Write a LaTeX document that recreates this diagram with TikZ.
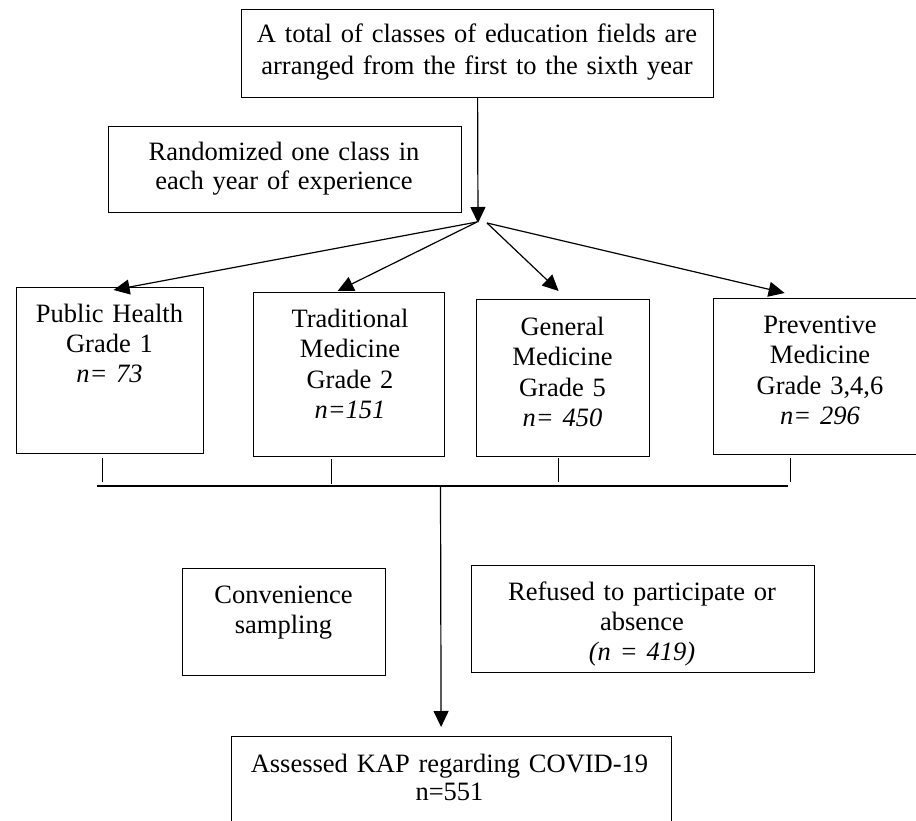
\documentclass[tikz,border=0pt]{standalone}
\usepackage{fontspec}
\setmainfont{Liberation Serif}
\usetikzlibrary{arrows.meta,calc}
\begin{document}
\begin{tikzpicture}[x=1pt,y=1pt,
  box/.style={draw=black,line width=1.2pt,rectangle,inner sep=0pt,anchor=north west},
  txt/.style={align=center,anchor=base,inner sep=0pt,font=\fontsize{26.5}{30.5}\selectfont},
  conn/.style={line width=1.2pt},
  arr/.style={conn,-{Triangle[length=16pt,width=15pt]}}]
\useasboundingbox (0,0) rectangle (916,-821);
% boxes
\node[box,minimum width=472pt,minimum height=88pt] (top) at (241,-9) {};
\node[box,minimum width=353pt,minimum height=86pt] (rand) at (108,-126) {};
\node[box,minimum width=187pt,minimum height=166pt] (ph) at (16,-287) {};
\node[box,minimum width=191pt,minimum height=164pt] (tr) at (253,-292) {};
\node[box,minimum width=173pt,minimum height=157pt] (gen) at (476,-299) {};
\node[box,minimum width=214pt,minimum height=156pt] (prev) at (713,-298) {};
\node[box,minimum width=203pt,minimum height=107pt] (conv) at (182,-568) {};
\node[box,minimum width=343pt,minimum height=107pt] (ref) at (471,-565) {};
\node[box,minimum width=440pt,minimum height=100pt] (kap) at (231,-736) {};
% texts
\node[txt,text width=460pt,font=\fontsize{26.5}{32}\selectfont] (toptxt) at (477,-43) {A total of classes of education fields are\\arranged from the first to the sixth year};
\node[txt,text width=340pt,font=\fontsize{26.5}{29}\selectfont] (randtxt) at (284,-161) {Randomized one class in\\each year of experience};
\node[txt,text width=180pt] (phtxt) at (109.5,-322) {Public Health\\Grade 1\\\textit{n= 73}};
\node[txt,text width=185pt] (trtxt) at (350,-327) {Traditional\\Medicine\\Grade 2\\\textit{n=151}};
\node[txt,text width=168pt] (gentxt) at (562.5,-335) {General\\Medicine\\Grade 5\\\textit{n= 450}};
\node[txt,text width=200pt] (prevtxt) at (820,-333) {Preventive\\Medicine\\Grade 3,4,6\\\textit{n= 296}};
\node[txt,text width=195pt,font=\fontsize{26.5}{30}\selectfont] (convtxt) at (283.5,-603) {Convenience\\sampling};
\node[txt,text width=335pt,font=\fontsize{26.5}{30}\selectfont] (reftxt) at (642,-600) {Refused to participate or\\absence\\\textit{(n = 419)}};
\node[txt,text width=430pt,font=\fontsize{26.5}{28}\selectfont] (kaptxt) at (449.5,-772) {Assessed KAP regarding COVID-19\\n=551};
% connectors
\coordinate (fan) at (478,-223);
\coordinate (fanL) at (477,-222);
\coordinate (fanR) at (487,-223);
\draw[arr] (top.south) -- (fan);
\draw[arr] (fanL) -- ($(ph.north)+(3.5,-3)$);
\draw[arr] (fanL) -- ($(tr.north)+(-11.5,1)$);
\draw[arr] (fanR) -- ($(gen.north)+(-4.5,8)$);
\draw[arr] (fanR) -- ($(prev.north)+(-36,5)$);
% bus
\coordinate (busL) at (97,-486);
\coordinate (busR) at (788,-486);
\coordinate (busM) at (440.5,-486);
\draw[conn] (busL) -- (busR);
\draw[conn] ($(ph.south)+(-7.5,-4)$) -- ++(0,-24);
\draw[conn] ($(tr.south)+(-17.5,-2)$) -- ++(0,-25);
\draw[conn] ($(gen.south)+(-4.5,-1)$) -- ++(0,-24);
\draw[conn] ($(prev.south)+(-30,-3)$) -- ++(0,-24);
\draw[arr] (busM) -- ($(kap.north)+(-10.5,9)$);
\end{tikzpicture}
\end{document}
